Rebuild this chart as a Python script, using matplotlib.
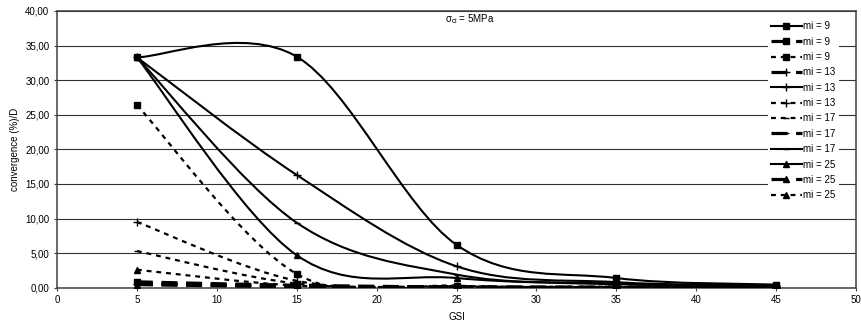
import matplotlib
matplotlib.use("Agg")
import matplotlib.pyplot as plt
from matplotlib.lines import Line2D
from matplotlib.patches import PathPatch
from matplotlib.path import Path
from matplotlib.ticker import FuncFormatter

plt.rcParams["font.family"] = ["Liberation Sans", "DejaVu Sans"]
plt.rcParams["font.size"] = 7
plt.rcParams["mathtext.fontset"] = "custom"
plt.rcParams["mathtext.rm"] = "Liberation Sans"
plt.rcParams["mathtext.it"] = "Liberation Sans"

gsi = [5, 15, 25, 35, 45]

mi_labels = ["mi = 9", "mi = 9", "mi = 9",
             "mi = 13", "mi = 13", "mi = 13",
             "mi = 17", "mi = 17", "mi = 17",
             "mi = 25", "mi = 25", "mi = 25"]

# convergence (%)/D, one list per series, in legend order
mi9_solid = [33.3, 33.4, 6.2, 1.4, 0.45]
mi9_dash = [0.85, 0.35, 0.1, 0.05, 0.03]
mi9_dot = [26.4, 2.0, 0.3, 0.15, 0.1]
mi13_dash = [0.6, 0.25, 0.08, 0.04, 0.02]
mi13_solid = [33.3, 16.3, 3.1, 0.8, 0.3]
mi13_dot = [9.5, 1.0, 0.2, 0.1, 0.05]
mi17_dot = [5.3, 0.6, 0.15, 0.08, 0.04]
mi17_dash = [0.5, 0.2, 0.06, 0.03, 0.02]
mi17_solid = [33.3, 9.4, 1.9, 0.6, 0.25]
mi25_solid = [33.3, 4.7, 1.4, 0.5, 0.2]
mi25_dash = [0.45, 0.15, 0.05, 0.03, 0.02]
mi25_dot = [2.6, 0.3, 0.1, 0.05, 0.03]

series = [mi9_solid, mi9_dash, mi9_dot,
          mi13_dash, mi13_solid, mi13_dot,
          mi17_dot, mi17_dash, mi17_solid,
          mi25_solid, mi25_dash, mi25_dot]

SOLID = dict(lw=1.5, ls="-")
DASH = dict(lw=2.3, ls=(0, (5, 2.7)))
DOT = dict(lw=1.6, ls=(0, (2.2, 2.2)))

styles = [(SOLID, "s"), (DASH, "s"), (DOT, "s"),
          (DASH, "+"), (SOLID, "+"), (DOT, "+"),
          (DOT, "_"), (DASH, "_"), (SOLID, "_"),
          (SOLID, "^"), (DASH, "^"), (DOT, "^")]


def smooth_path(x, y):
    # Excel-style smoothed line: cubic Bezier through the data points
    n = len(x)
    verts = [(x[0], y[0])]
    codes = [Path.MOVETO]
    for i in range(n - 1):
        a = i - 1 if i > 0 else i
        b = i + 2 if i + 2 < n else i + 1
        c1 = (x[i] + (x[i + 1] - x[a]) / 6, y[i] + (y[i + 1] - y[a]) / 6)
        c2 = (x[i + 1] - (x[b] - x[i]) / 6, y[i + 1] - (y[b] - y[i]) / 6)
        verts += [c1, c2, (x[i + 1], y[i + 1])]
        codes += [Path.CURVE4] * 3
    return Path(verts, codes)


fig = plt.figure(figsize=(8.61, 3.29), dpi=100)
ax = fig.add_axes([0.0662, 0.1255, 0.928, 0.8411])

handles = []
for vals, (st, mk), lab in zip(series, styles, mi_labels):
    patch = PathPatch(smooth_path(gsi, vals), fill=False, edgecolor="black",
                      lw=st["lw"], linestyle=st["ls"], capstyle="butt", zorder=3)
    ax.add_patch(patch)
    ms = 6 if mk == "+" else (5 if mk == "_" else 4.8)
    ax.plot(gsi, vals, linestyle="none", marker=mk, color="black",
            ms=ms, mew=1.0, zorder=4)
    handles.append(Line2D([], [], color="black", lw=st["lw"], linestyle=st["ls"],
                          marker=mk, ms=ms, mew=1.0, dash_capstyle="butt",
                          label=lab))

ax.set_xlim(0, 50)
ax.set_ylim(0, 40)
ax.set_xticks(range(0, 51, 5))
ax.set_yticks(range(0, 41, 5))
ax.yaxis.set_major_formatter(FuncFormatter(lambda v, p: f"{v:.2f}".replace(".", ",")))
ax.yaxis.grid(True, color="#333333", lw=0.8)
ax.set_axisbelow(True)
for s in ax.spines.values():
    s.set_color("#404040")
    s.set_linewidth(1.1)
ax.tick_params(length=2.5, width=0.8, color="#404040", labelsize=7, pad=3)

ax.set_xlabel("GSI", fontsize=7, labelpad=5)
ax.set_ylabel("convergence (%)/D", fontsize=7, labelpad=4)

ax.text(24.3, 38.8, r"$\sigma_{ci}$ = 5MPa", fontsize=7, va="center", ha="left")

leg = ax.legend(handles=handles, loc="upper left",
                bbox_to_anchor=(768 / 861, 1 - 18 / 329),
                bbox_transform=fig.transFigure, frameon=True, fancybox=False,
                edgecolor="none", facecolor="white", framealpha=1,
                handlelength=3.1, handletextpad=0.2, labelspacing=0.55,
                borderpad=0.35, borderaxespad=0, numpoints=1, fontsize=7)
leg.set_zorder(10)

fig.savefig("out.png", dpi=100)
